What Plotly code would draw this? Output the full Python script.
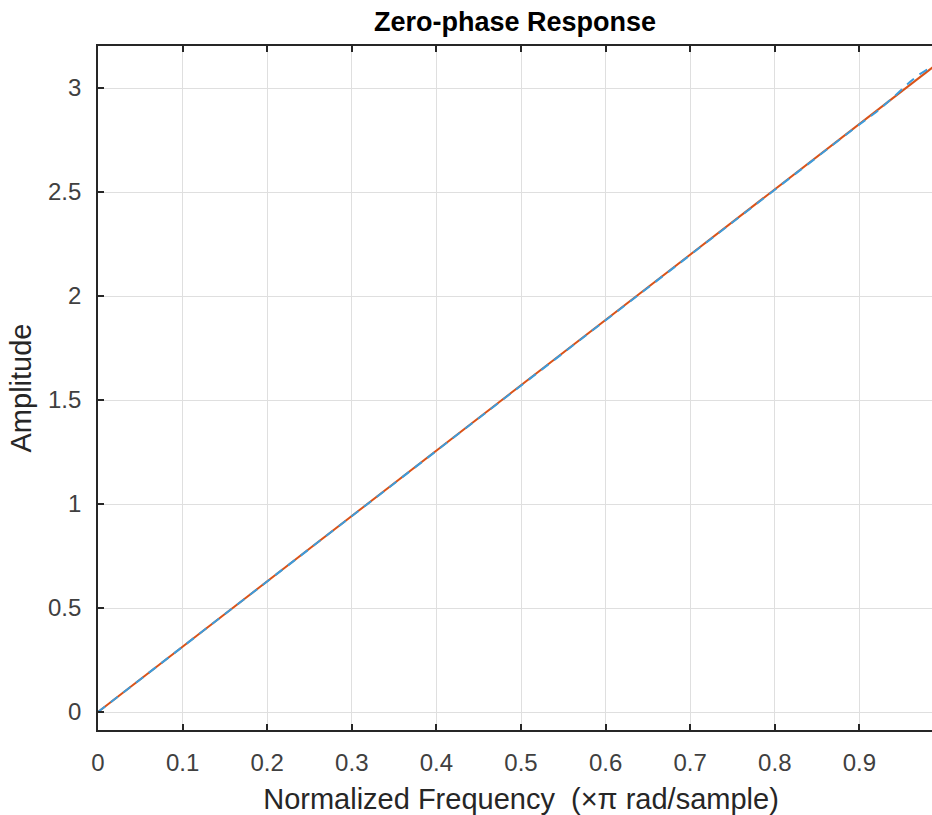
import plotly.graph_objects as go

# Sampled frequency points (x pi rad/sample)
freq = [0.0, 0.1, 0.2, 0.3, 0.4, 0.5, 0.6, 0.7, 0.8, 0.9, 0.92, 0.94, 0.96, 0.97, 0.98, 0.99]
# Reference response (red, solid)
ideal_amp = [0.0, 0.314, 0.628, 0.942, 1.257, 1.571, 1.885, 2.199, 2.513, 2.827, 2.890, 2.953, 3.016, 3.047, 3.079, 3.110]
# Designed filter response (blue, dashed)
design_amp = [0.0, 0.314, 0.628, 0.942, 1.257, 1.571, 1.885, 2.199, 2.513, 2.825, 2.885, 2.955, 3.030, 3.063, 3.088, 3.105]

xticks = [0, 0.1, 0.2, 0.3, 0.4, 0.5, 0.6, 0.7, 0.8, 0.9, 1.0]
yticks = [0, 0.5, 1, 1.5, 2, 2.5, 3]

font = "Liberation Sans, Arial, Helvetica, sans-serif"

fig = go.Figure()
fig.add_trace(go.Scatter(x=freq, y=ideal_amp, mode="lines",
                         line=dict(color="#D95319", width=2), showlegend=False))
fig.add_trace(go.Scatter(x=freq, y=design_amp, mode="lines",
                         line=dict(color="#3C9CDC", width=2, dash="9px,7px"), showlegend=False))

axis_common = dict(showgrid=True, gridcolor="#DFDFDF", gridwidth=1,
                   showline=True, linecolor="#262626", linewidth=1.8, mirror="ticks",
                   ticks="inside", ticklen=6, tickcolor="#262626", tickwidth=1.5,
                   zeroline=False, tickfont=dict(family=font, size=24, color="#404040"))

W = 944
fig.update_layout(
    width=W, height=815,
    paper_bgcolor="white", plot_bgcolor="white",
    margin=dict(l=98, r=0, t=46, b=85, autoexpand=False),
    title=dict(text="<b>Zero-phase Response</b>", x=515 / W, xanchor="center",
               y=1 - 22 / 815, yanchor="middle",
               font=dict(family=font, size=27, color="black")),
    xaxis=dict(range=[0, 1.0], tickvals=xticks, ticktext=[str(v) if v < 1 else "1" for v in xticks],
               ticklabelstandoff=10,
               title=dict(text="Normalized Frequency  (\u00d7\u03c0 rad/sample)", standoff=14,
                          font=dict(family=font, size=29, color="#262626")),
               **axis_common),
    yaxis=dict(range=[-0.0865, 3.202], tickvals=yticks, ticktext=[str(v) for v in yticks],
               ticklabelstandoff=10,
               title=dict(text="Amplitude", standoff=8,
                          font=dict(family=font, size=29, color="#262626")),
               **axis_common),
)

fig.write_html("out.html", config={"displayModeBar": False},
               post_script="document.body.style.margin='0';document.body.style.overflow='hidden';")
